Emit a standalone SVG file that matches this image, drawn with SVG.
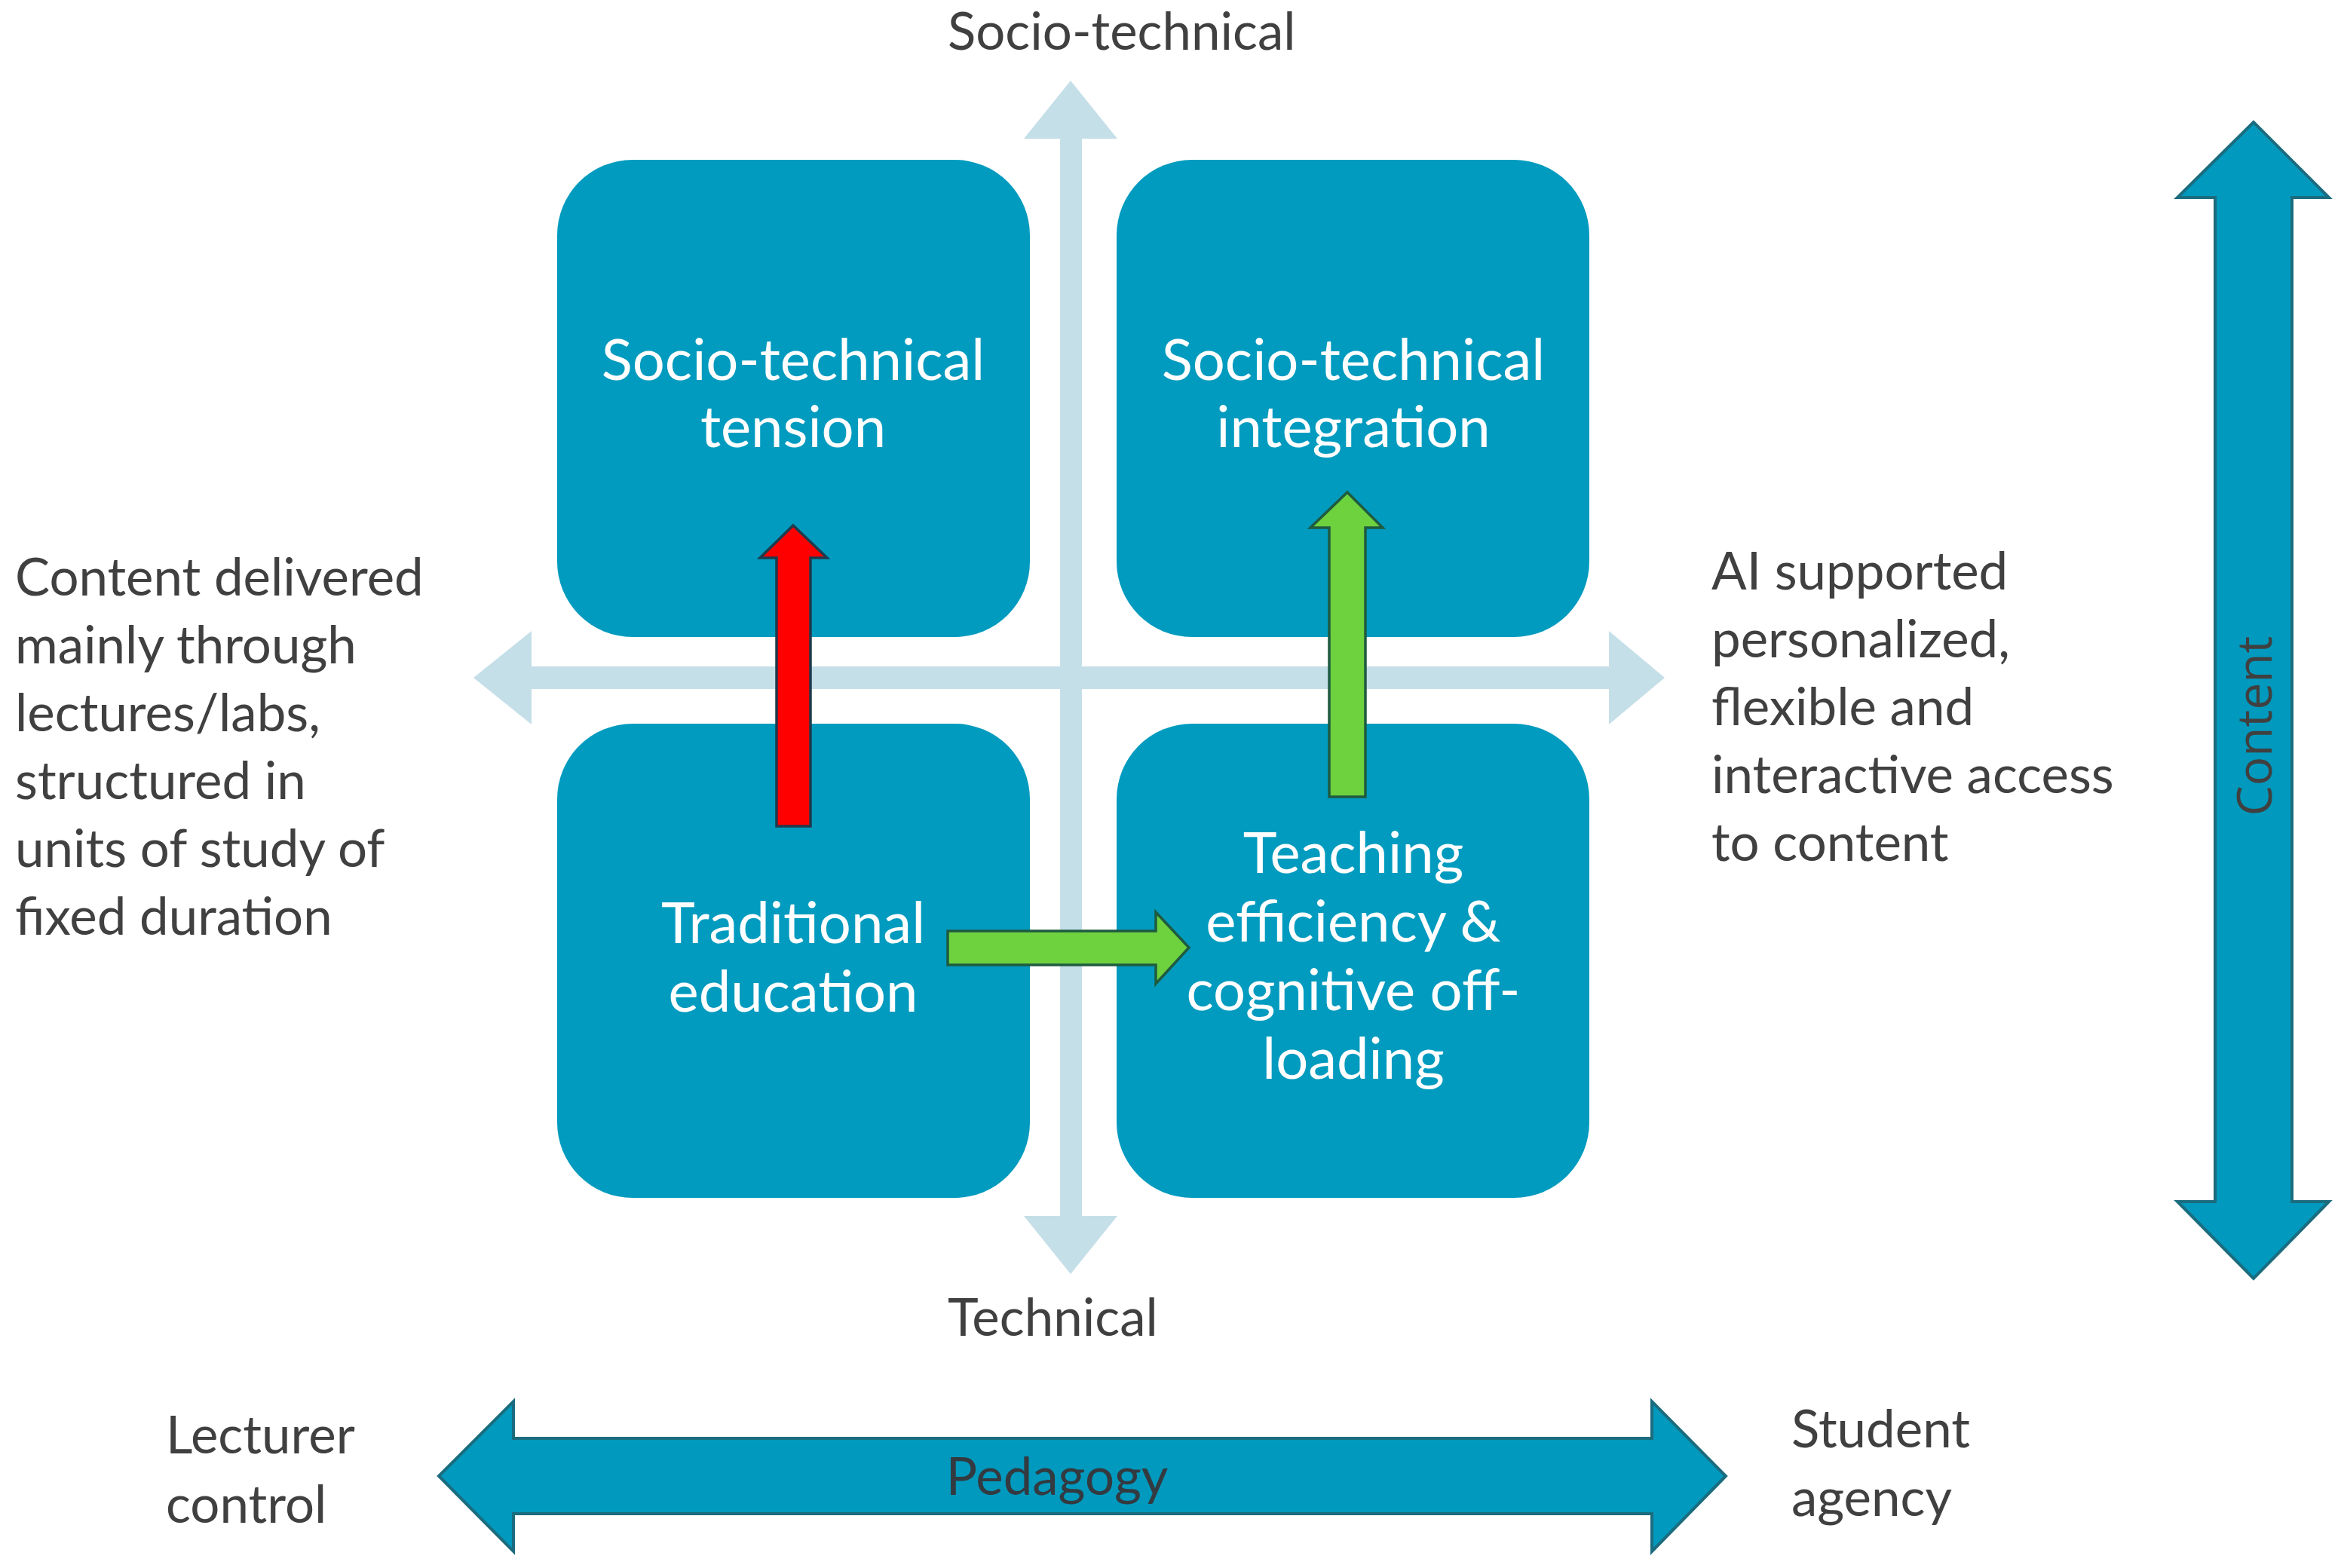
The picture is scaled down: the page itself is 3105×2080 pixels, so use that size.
<svg xmlns="http://www.w3.org/2000/svg" width="3105" height="2080" viewBox="0 0 3105 2080">
<style>
.bg{fill:#ffffff}
.axis{fill:#C5DFE8}
.box{fill:#019BBF}
.big{fill:#0199BD;stroke:#1B6C7E;stroke-width:4;stroke-linejoin:miter}
.red{fill:#FF0000;stroke:#1F3B4D;stroke-width:3.5}
.green{fill:#6ED13E;stroke:#1E5B40;stroke-width:3.5}
.lbl{font-family:Lato,"Open Sans","Liberation Sans",sans-serif;font-size:69px;fill:#404040}
.box-lbl{font-family:Lato,"Open Sans","Liberation Sans",sans-serif;font-size:76px;fill:#ffffff;text-anchor:middle}
.axis-lbl{font-family:"Open Sans","Liberation Sans",sans-serif;font-size:64px;fill:#404040;text-anchor:middle}
</style>
<rect class="bg" x="0" y="0" width="3105" height="2080"/>
<g id="axes">
<polygon class="axis" points="1406,184 1358,184 1420,107 1482,184 1435,184 1435,1613 1482,1613 1420,1690 1358,1613 1406,1613"/>
<polygon class="axis" points="705,884 705,837 628,899 705,961 705,914 2134,914 2134,961 2208,899 2134,837 2134,884"/>
</g>
<g id="dimension-arrows">
<polygon id="content-arrow" class="big" points="2938,262 2888,262 2989,162 3089,262 3040,262 3040,1594 3089,1594 2989,1696 2888,1594 2938,1594"/>
<text class="axis-lbl" transform="translate(3013,963) rotate(-90)">Content</text>
<polygon id="pedagogy-arrow" class="big" points="681,1908 681,1859 582,1958 681,2058 681,2008 2191,2008 2191,2058 2289,1958 2191,1859 2191,1908"/>
<text class="lbl" x="1402" y="1983" text-anchor="middle" style="fill:#333a40">Pedagogy</text>
</g>
<g id="node-tension">
<rect class="box" x="739" y="212" width="627" height="633" rx="100" ry="100"/>
<text class="box-lbl" x="1052" y="504">Socio-technical</text>
<text class="box-lbl" x="1052" y="593">tension</text>
</g>
<g id="node-integration">
<rect class="box" x="1481" y="212" width="627" height="633" rx="100" ry="100"/>
<text class="box-lbl" x="1795" y="504">Socio-technical</text>
<text class="box-lbl" x="1795" y="593">integration</text>
</g>
<g id="node-traditional">
<rect class="box" x="739" y="960" width="627" height="629" rx="100" ry="100"/>
<text class="box-lbl" x="1052" y="1251">Traditional</text>
<text class="box-lbl" x="1052" y="1342">education</text>
</g>
<g id="node-efficiency">
<rect class="box" x="1481" y="960" width="627" height="629" rx="100" ry="100"/>
<text class="box-lbl" x="1795" y="1158">Teaching</text>
<text class="box-lbl" x="1795" y="1249">efficiency &amp;</text>
<text class="box-lbl" x="1795" y="1340">cognitive off-</text>
<text class="box-lbl" x="1795" y="1431">loading</text>
</g>
<g id="connectors">
<polygon class="red" points="1030,1096 1030,740 1008,740 1052,697 1097,740 1075,740 1075,1096"/>
<polygon class="green" points="1763,1057 1763,700 1738,700 1787,653 1834,700 1811,700 1811,1057"/>
<polygon class="green" points="1257,1235 1533,1235 1533,1210 1577,1257 1533,1305 1533,1280 1257,1280"/>
</g>
<g id="labels">
<text class="lbl" x="1257" y="66">Socio-technical</text>
<text class="lbl" x="1257" y="1772">Technical</text>
<text class="lbl" x="20" y="790">Content delivered</text>
<text class="lbl" x="20" y="880">mainly through</text>
<text class="lbl" x="20" y="970">lectures/labs,</text>
<text class="lbl" x="20" y="1060">structured in</text>
<text class="lbl" x="20" y="1150">units of study of</text>
<text class="lbl" x="20" y="1240">fixed duration</text>
<text class="lbl" x="2270" y="782">AI supported</text>
<text class="lbl" x="2270" y="872">personalized,</text>
<text class="lbl" x="2270" y="962">flexible and</text>
<text class="lbl" x="2270" y="1052">interactive access</text>
<text class="lbl" x="2270" y="1142">to content</text>
<text class="lbl" x="220" y="1928">Lecturer</text>
<text class="lbl" x="220" y="2020">control</text>
<text class="lbl" x="2376" y="1920">Student</text>
<text class="lbl" x="2376" y="2011">agency</text>
</g>
</svg>
